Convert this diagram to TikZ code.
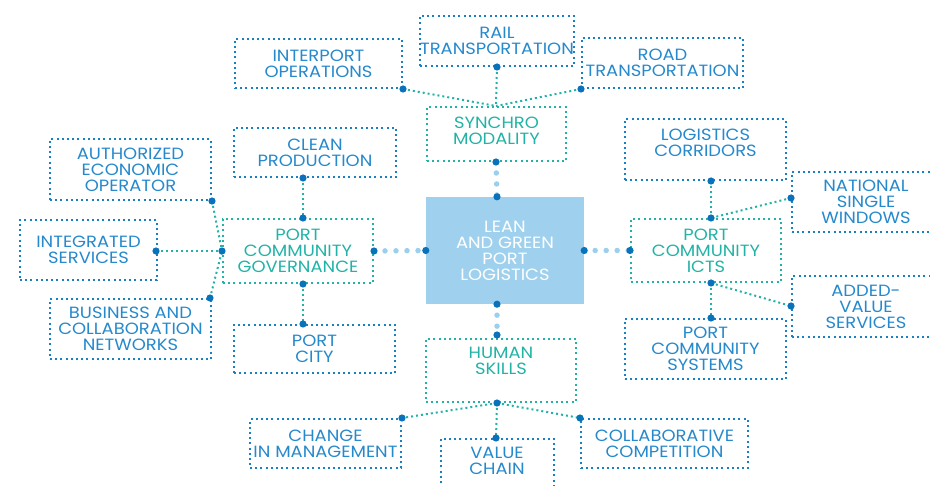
\documentclass[tikz,border=0pt]{standalone}
\usepackage{fontspec}
\setmainfont{Poppins}[FakeStretch=1.1]
\usetikzlibrary{calc}
\definecolor{boxblue}{HTML}{1A80C4}
\definecolor{txtblue}{HTML}{2589CC}
\definecolor{teal}{HTML}{22B3A6}
\definecolor{dotblue}{HTML}{0A72BA}
\definecolor{lightblue}{HTML}{9CCFEC}
\definecolor{centerfill}{HTML}{9FD1EE}
\tikzset{
  bbox/.style={draw=boxblue, line width=2pt, dash pattern=on 2pt off 3.2pt,
    text=txtblue, align=center, inner sep=0pt,
    font=\fontsize{16.3}{16}\selectfont},
  tbox/.style={bbox, draw=teal, text=teal},
  tline/.style={draw=teal, line width=2pt, dash pattern=on 2pt off 3pt},
  lline/.style={draw=lightblue, line width=5.5pt, line cap=round, dash pattern=on 0pt off 11pt},
  jdot/.style={fill=dotblue},
}
\newcommand{\jd}[1]{\fill[jdot] (#1) circle (3.6pt);}
\begin{document}
\begin{tikzpicture}[x=1pt,y=-1pt]
\useasboundingbox (0,0) rectangle (930,486);
\clip (0,0) rectangle (930,486);
% boxes
\node[bbox, minimum width=152, minimum height=50] (rail) at (497,41) {RAIL\\TRANSPORTATION};
\node[bbox, minimum width=167, minimum height=49] (inter) at (318.5,63.5) {INTERPORT\\OPERATIONS};
\node[bbox, minimum width=161, minimum height=50] (road) at (662.5,63) {ROAD\\TRANSPORTATION};
\node[tbox, minimum width=139, minimum height=54] (synchro) at (496.5,134) {SYNCHRO\\MODALITY\\[-9pt]};
\node[bbox, minimum width=162, minimum height=49] (clean) at (315,152.5) {CLEAN\\PRODUCTION};
\node[bbox, minimum width=161, minimum height=61] (aeo) at (130.5,169.5) {AUTHORIZED\\ECONOMIC\\OPERATOR};
\node[bbox, minimum width=137, minimum height=60] (integ) at (88.5,250) {INTEGRATED\\SERVICES};
\node[bbox, minimum width=161, minimum height=60] (bcn) at (130.5,329) {BUSINESS AND\\COLLABORATION\\NETWORKS};
\node[tbox, minimum width=150, minimum height=64] (gov) at (298,251) {PORT\\COMMUNITY\\GOVERNANCE};
\node[bbox, minimum width=161, minimum height=48] (city) at (314.5,349) {PORT\\CITY};
\node[fill=centerfill, minimum width=158, minimum height=107, inner sep=0pt, align=center,
  text=white, font=\fontsize{16.3}{16}\selectfont] (center) at (505,250.5) {LEAN\\AND GREEN\\PORT\\LOGISTICS};
\node[bbox, minimum width=161, minimum height=61] (logcor) at (705.5,149.5) {LOGISTICS\\CORRIDORS\\[-3pt]};
\node[bbox, minimum width=148, minimum height=60] (nsw) at (866,202) {NATIONAL\\SINGLE\\WINDOWS};
\node[tbox, minimum width=150, minimum height=63] (icts) at (706,250.5) {PORT\\COMMUNITY\\ICTS};
\node[bbox, minimum width=148, minimum height=61] (avs) at (866,306.5) {ADDED-\\VALUE\\SERVICES};
\node[bbox, minimum width=161, minimum height=60] (pcs) at (705.5,349) {PORT\\COMMUNITY\\SYSTEMS};
\node[tbox, minimum width=150, minimum height=63] (human) at (501,370.5) {HUMAN\\SKILLS\\[4pt]};
\node[bbox, minimum width=151, minimum height=49] (change) at (325.5,443.5) {CHANGE\\IN MANAGEMENT};
\node[bbox, minimum width=113, minimum height=70] (value) at (497.5,474) {};
\node[text=txtblue, align=center, font=\fontsize{16.3}{16}\selectfont] (valuet) at (497,461) {VALUE\\CHAIN};
\node[bbox, minimum width=167, minimum height=49] (collab) at (664.5,443.5) {COLLABORATIVE\\COMPETITION};
% junction coordinates
\coordinate (synT) at ($(synchro.north)+(-0.5,0)$);
\coordinate (synB) at ($(synchro.south)+(-0.5,0)$);
\coordinate (govT) at ($(gov.north)+(5,0)$);
\coordinate (govB) at ($(gov.south)+(5,0)$);
\coordinate (cleanB) at ($(clean.south)+(-12,0)$);
\coordinate (cityT) at ($(city.north)+(-11.5,0)$);
\coordinate (integR) at ($(integ.east)+(-2,1)$);
\coordinate (bcnT) at ($(bcn.north east)+(-2,0)$);
\coordinate (centT) at ($(center.north)+(-8,0)$);
\coordinate (centB) at ($(center.south)+(-8,0)$);
\coordinate (logB) at ($(logcor.south)+(5.5,0)$);
\coordinate (ictT) at ($(icts.north)+(5,0)$);
\coordinate (ictB) at ($(icts.south)+(5,0)$);
\coordinate (pcsT) at ($(pcs.north)+(5.5,0)$);
\coordinate (nswL) at ($(nsw.west)+(0,-4)$);
\coordinate (avsL) at ($(avs.west)+(0,-0.5)$);
\coordinate (humT) at ($(human.north)+(-4,-3)$);
\coordinate (humB) at ($(human.south)+(-4,0)$);
\coordinate (valT) at ($(value.north)+(-1.5,0)$);
% connectors
\draw[tline] (inter.south east) -- (synT);
\draw[tline] (rail.south) -- (synT);
\draw[tline] (road.south west) -- (synT);
\draw[tline] (cleanB) -- (govT);
\draw[tline] (aeo.south east) -- (gov.west);
\draw[tline] (integR) -- (gov.west);
\draw[tline] (bcnT) -- (gov.west);
\draw[tline] (govB) -- (cityT);
\draw[tline] (logB) -- (ictT);
\draw[tline] (nswL) -- (ictT);
\draw[tline] (ictB) -- (pcsT);
\draw[tline] (ictB) -- (avsL);
\draw[tline] (humB) -- (change.north east);
\draw[tline] (humB) -- (valT);
\draw[tline] (humB) -- (collab.north west);
\draw[lline] (synB) -- (centT);
\draw[lline] (gov.east) -- (center.west);
\draw[lline] (center.east) -- (icts.west);
\draw[lline] (centB) -- (humT);
% junction dots
\jd{rail.south} \jd{inter.south east} \jd{road.south west} \jd{synB}
\jd{cleanB} \jd{govT} \jd{aeo.south east} \jd{integR} \jd{bcnT} \jd{gov.west} \jd{gov.east} \jd{govB} \jd{cityT}
\jd{centT} \jd{centB} \jd{center.west} \jd{center.east}
\jd{logB} \jd{ictT} \jd{nswL} \jd{icts.west} \jd{ictB} \jd{avsL} \jd{pcsT}
\jd{humT} \jd{humB} \jd{change.north east} \jd{valT} \jd{collab.north west}
\end{tikzpicture}
\end{document}
